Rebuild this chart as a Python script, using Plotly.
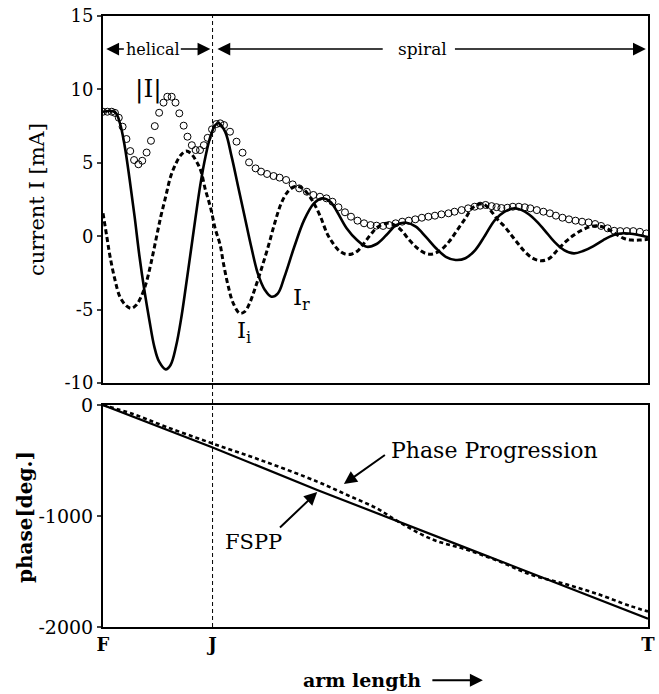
import plotly.graph_objects as go
from plotly.subplots import make_subplots

# ---------------- data (arm length: F = 0, T = 100) ----------------
x_ticks = [0, 20.1, 100]
x_tick_labels = ["F", "J", "T"]
x_junction = 20.1

# |I| (open circles)
mag_x = [0, 0.8, 1.6, 2.2, 2.9, 3.6, 4.3, 5.0, 5.7, 6.5, 7.2, 8.0, 8.8, 9.5, 10.3, 11.1,
         11.8, 12.6, 13.3, 14.0, 14.8, 15.5, 16.3, 17.0, 17.8, 18.5, 19.2, 20.0, 20.8, 21.5,
         22.2, 23.3, 24.5, 25.6, 26.8, 28.0, 29.0, 30.1, 31.3, 32.4, 33.6, 34.8, 36.0, 37.4,
         38.6, 39.8, 41.0, 42.1, 43.2, 44.4, 45.5, 46.7, 47.9, 49.1, 50.2, 51.4, 52.5, 53.7,
         54.9, 56.1, 57.3, 58.5, 59.7, 60.9, 62.1, 63.4, 64.5, 65.8, 67.0, 68.2, 69.2, 70.2,
         71.3, 72.2, 73.1, 74.2, 75.2, 76.3, 77.4, 78.4, 79.6, 80.8, 82.0, 83.1, 84.3, 85.5,
         86.7, 87.9, 89.1, 90.3, 91.4, 92.6, 93.8, 94.9, 96.1, 97.3, 98.5, 99.7]
mag_y = [8.48, 8.48, 8.48, 8.4, 8.07, 7.46, 6.62, 5.8, 5.19, 4.9, 5.14, 5.7, 6.5, 7.5, 8.41, 9.1,
         9.5, 9.5, 9.1, 8.37, 7.53, 6.78, 6.2, 5.87, 5.87, 6.2, 6.7, 7.28, 7.64, 7.69,
         7.57, 7.12, 6.44, 5.69, 5.03, 4.62, 4.4, 4.24, 4.1, 3.99, 3.83, 3.53, 3.26, 3.03,
         2.81, 2.69, 2.58, 2.35, 1.97, 1.63, 1.33, 1.06, 0.88, 0.76, 0.72, 0.7, 0.76, 0.88,
         0.99, 1.06, 1.15, 1.26, 1.33, 1.4, 1.49, 1.56, 1.67, 1.78, 1.9, 2.01, 2.08, 2.13,
         2.05, 1.98, 1.92, 1.94, 2.01, 2.01, 1.97, 1.9, 1.78, 1.67, 1.56, 1.4, 1.26, 1.15,
         1.06, 0.99, 0.94, 0.83, 0.7, 0.54, 0.37, 0.35, 0.35, 0.35, 0.3, 0.19]

# I_r (solid)
ir_x = [0, 2.2, 3.1, 4.0, 4.9, 5.8, 6.7, 7.6, 8.5, 9.4, 10.3, 11.5, 12.4, 13.4, 14.3, 15.2,
        16.1, 17.0, 17.9, 18.8, 19.7, 20.6, 21.2, 22.4, 23.6, 24.8, 26.0, 27.2, 28.4, 29.7,
        30.9, 32.1, 33.3, 35.1, 36.9, 38.7, 40.2, 41.7, 42.9, 44.7, 46.6, 48.4, 50.2, 52.0,
        53.8, 55.6, 57.4, 59.2, 61.1, 62.9, 64.7, 66.5, 68.3, 70.1, 71.9, 73.7, 75.5, 77.4,
        79.2, 81.0, 82.8, 84.6, 86.4, 88.2, 90.0, 91.8, 93.7, 95.5, 97.3, 99.1, 100]
ir_y = [8.48, 8.45, 7.7, 6.1, 3.83, 1.33, -1.4, -3.7, -5.7, -7.5, -8.55, -9.07, -8.77, -7.5,
        -5.7, -3.44, -1.06, 1.33, 3.6, 5.42, 6.78, 7.57, 7.69, 7.12, 5.42, 3.37, 1.33, -0.72,
        -2.53, -3.66, -4.12, -3.89, -2.76, -0.72, 1.1, 2.24, 2.58, 2.35, 1.7, 0.54, -0.26,
        -0.72, -0.53, 0.08, 0.76, 0.92, 0.65, -0.03, -0.82, -1.4, -1.62, -1.5, -0.94, 0.05,
        1.1, 1.67, 1.9, 1.67, 1.15, 0.42, -0.37, -0.94, -1.17, -0.99, -0.67, -0.26, 0.08,
        0.2, 0.15, 0.01, -0.05]

# I_i (dashed)
ii_x = [0, 0.7, 1.3, 2.2, 3.1, 4.3, 5.2, 6.1, 7.0, 7.9, 8.8, 9.7, 10.6, 11.5, 12.4, 13.4,
        14.3, 15.2, 16.1, 17.0, 17.9, 18.8, 19.7, 20.6, 21.5, 22.1, 23.0, 23.9, 25.1, 26.0,
        26.9, 27.8, 29.0, 30.3, 31.5, 32.7, 33.9, 35.1, 36.3, 37.5, 38.7, 39.9, 41.1, 42.0,
        43.2, 44.4, 45.7, 46.9, 48.1, 49.3, 50.5, 52.0, 53.5, 54.7, 56.2, 57.7, 59.2, 60.5,
        62.0, 63.5, 65.0, 66.5, 67.7, 69.2, 70.1, 71.3, 72.5, 73.7, 74.9, 76.1, 77.4, 78.9,
        80.4, 81.9, 83.4, 84.9, 86.4, 87.9, 89.4, 90.9, 92.4, 93.9, 95.5, 97.0, 98.5, 100]
ii_y = [1.56, -0.03, -1.4, -2.98, -4.12, -4.75, -4.91, -4.69, -4.12, -3.21, -1.85, -0.26,
        1.33, 2.69, 4.05, 4.97, 5.53, 5.8, 5.65, 5.19, 4.51, 3.15, 2.0, 0.5, -0.6, -1.85,
        -3.44, -4.57, -5.25, -5.14, -4.57, -3.66, -2.3, -0.72, 0.88, 2.24, 3.03, 3.37, 3.33,
        2.92, 2.24, 1.33, 0.2, -0.37, -0.94, -1.21, -1.21, -0.94, -0.37, 0.2, 0.65, 0.88,
        0.76, 0.42, -0.26, -0.82, -1.17, -1.21, -0.94, -0.37, 0.42, 1.22, 1.9, 2.2, 2.13,
        1.67, 1.1, 0.65, 0.08, -0.48, -1.06, -1.51, -1.67, -1.51, -0.94, -0.37, 0.08, 0.42,
        0.65, 0.7, 0.54, 0.2, -0.14, -0.26, -0.26, -0.21]

# phase
fspp_x = [0, 20, 39.3, 54.4, 66.5, 84.6, 100]
fspp_y = [0, -380, -765, -1050, -1285, -1630, -1925]
prog_x = [0, 5.5, 11.5, 20, 29.7, 39.3, 45, 50.2, 54.4, 60.4, 66.5, 72.5, 78.6, 84.6, 90.6, 96.7, 100]
prog_y = [0, -81, -195, -345, -510, -690, -815, -930, -1057, -1210, -1300, -1405, -1530, -1610,
          -1700, -1810, -1860]

top_ticks = [-10, -5, 0, 5, 10, 15]
top_tick_labels = ["-10", "-5", "0", "5", "10", "15"]
bot_ticks = [-2000, -1000, 0]
bot_tick_labels = ["-2000", "-1000", "0"]

# ---------------- figure ----------------
SERIF = "DejaVu Serif"
fig = make_subplots(rows=2, cols=1, shared_xaxes=True, vertical_spacing=0.0)

fig.add_trace(go.Scatter(x=ir_x, y=ir_y, mode="lines", line=dict(color="black", width=2.6, shape="spline"),
                         showlegend=False), row=1, col=1)
fig.add_trace(go.Scatter(x=ii_x, y=ii_y, mode="lines",
                         line=dict(color="black", width=3, dash="5px,3px", shape="spline"),
                         showlegend=False), row=1, col=1)
fig.add_trace(go.Scatter(x=mag_x, y=mag_y, mode="markers",
                         marker=dict(symbol="circle-open", size=7, color="black", line=dict(width=1)),
                         showlegend=False), row=1, col=1)
fig.add_trace(go.Scatter(x=fspp_x, y=fspp_y, mode="lines", line=dict(color="black", width=2.2),
                         showlegend=False), row=2, col=1)
fig.add_trace(go.Scatter(x=prog_x, y=prog_y, mode="lines",
                         line=dict(color="black", width=2.6, dash="4px,3px", shape="spline"),
                         showlegend=False), row=2, col=1)

axcommon = dict(showgrid=False, zeroline=False, showline=True, linecolor="black", linewidth=2, mirror=True)

fig.update_xaxes(range=[0, 100], tickvals=x_ticks, ticktext=x_tick_labels, ticks="",
                 ticklabeloverflow="allow",
                 tickfont=dict(family=SERIF, size=18, color="black", weight="bold"), **axcommon)
fig.update_xaxes(showticklabels=False, row=1, col=1)
fig.update_yaxes(range=[-10, 15], tickvals=top_ticks, ticktext=top_tick_labels, ticks="outside",
                 ticklen=4, tickwidth=1.5, tickfont=dict(family=SERIF, size=18, color="black"),
                 row=1, col=1, **axcommon)
fig.update_yaxes(range=[-2000, 0], tickvals=bot_ticks, ticktext=bot_tick_labels, ticks="outside",
                 ticklen=4, tickwidth=1.5, tickfont=dict(family=SERIF, size=19, color="black"),
                 row=2, col=1, **axcommon)

fig.update_layout(
    width=659, height=694,
    margin=dict(l=103, r=4, t=16, b=67),
    plot_bgcolor="white", paper_bgcolor="white",
    yaxis=dict(domain=[0.3993, 1.0]),
    yaxis2=dict(domain=[0.0, 0.3633]),
    font=dict(family=SERIF, color="black"),
)

# vertical dashed line at junction J spanning both panels
fig.add_shape(type="line", xref="x", yref="paper", x0=x_junction, x1=x_junction, y0=0, y1=1,
              line=dict(color="black", width=1, dash="4px,3px"))

ann = []
def arrow(x, y, ax, ay, xr="x", yr="y", w=1.6, size=1.6):
    ann.append(dict(x=x, y=y, ax=ax, ay=ay, xref=xr, yref=yr, axref=xr, ayref=yr, text="",
                    showarrow=True, arrowhead=2, arrowsize=size, arrowwidth=w, arrowcolor="black"))

def label(x, y, text, size, xr="x", yr="y", bold=False, angle=0):
    f = dict(family=SERIF, size=size, color="black")
    if bold:
        f["weight"] = "bold"
    ann.append(dict(x=x, y=y, xref=xr, yref=yr, text=text, showarrow=False, textangle=angle,
                    xanchor="center", yanchor="middle", font=f))

# helical / spiral labels
label(9.1, 12.75, "helical", 16)
arrow(0.6, 12.75, 4.1, 12.75)
arrow(19.7, 12.75, 14.0, 12.75)
label(58.7, 12.75, "spiral", 17)
arrow(21.0, 12.75, 51.6, 12.75)
arrow(99.6, 12.75, 64.3, 12.75)

# curve labels
label(8.3, 10.0, "|I|", 25)
label(36.4, -4.3, "I<sub>r</sub>", 23)
label(25.9, -6.5, "I<sub>i</sub>", 23)

# phase panel labels
label(71.9, -414, "Phase Progression", 22, yr="y2")
arrow(44.2, -712, 52.0, -441, xr="x", yr="y2", w=2, size=1.3)
label(27.7, -1234, "FSPP", 21, yr="y2")
arrow(39.3, -784, 32.2, -1117, xr="x", yr="y2", w=2, size=1.3)

# axis titles
label(-0.121, 0.699, "current I [mA]", 21, xr="paper", yr="paper", angle=-90)
label(-0.143, 0.18, "phase[deg.]", 20, xr="paper", yr="paper", bold=True, angle=-90)
label(0.476, -0.087, "arm length", 19, xr="paper", yr="paper", bold=True)
ann.append(dict(x=0.697, y=-0.087, xref="paper", yref="paper", ax=-52, ay=0, text="",
                showarrow=True, arrowhead=2, arrowsize=1.3, arrowwidth=2, arrowcolor="black"))

fig.update_layout(annotations=ann)
fig.write_html("out.html")
